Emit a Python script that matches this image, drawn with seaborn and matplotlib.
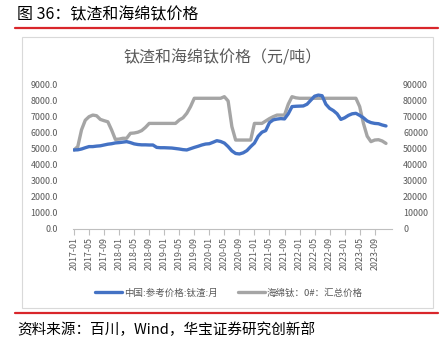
import matplotlib
matplotlib.use("Agg")
import matplotlib.pyplot as plt
import seaborn as sns
import pandas as pd
import numpy as np
from matplotlib.lines import Line2D
from matplotlib.patches import Rectangle

sns.set_style("white")
plt.rcParams['font.family'] = ['Noto Sans CJK SC', 'DejaVu Sans']

months = pd.date_range("2017-01-01", periods=84, freq="MS").strftime("%Y-%m").tolist()

slag = [4940, 4950, 5000, 5080, 5150, 5150, 5180, 5200, 5250, 5300, 5330, 5380,
        5400, 5430, 5460, 5400, 5320, 5280, 5260, 5260, 5250, 5250, 5100, 5080,
        5080, 5070, 5060, 5030, 5000, 4960, 4940, 5020, 5100, 5170, 5250, 5310,
        5330, 5420, 5520, 5470, 5370, 5150, 4880, 4720, 4690, 4760, 4900, 5150,
        5370, 5800, 6050, 6150, 6650, 6820, 6870, 6900, 6880, 7200, 7650, 7670,
        7680, 7690, 7800, 8050, 8300, 8370, 8330, 7800, 7540, 7400, 7200, 6850,
        6950, 7100, 7200, 7230, 7100, 6950, 6750, 6650, 6600, 6580, 6500, 6440]

sponge = [49400, 51500, 62000, 68000, 70200, 71200, 70800, 68500, 67700, 67000, 61900, 56000,
          56200, 56700, 56700, 59800, 60000, 60500, 61500, 63500, 66000, 66000, 66000, 66000,
          66000, 66000, 66000, 66000, 68100, 69500, 72300, 76500, 81700, 81700, 81700, 81700,
          81700, 81700, 81700, 81700, 82700, 80000, 64000, 55600, 55600, 55600, 55600, 55600,
          66000, 66000, 66000, 67500, 69000, 70200, 71200, 71200, 71200, 78000, 82700, 82000,
          81700, 81700, 81700, 81700, 81700, 81700, 81700, 81700, 81700, 81700, 81700, 81700,
          81700, 81700, 81700, 81700, 76500, 66000, 58000, 54600, 55600, 55800, 55000, 53500]

left_ticks = [0, 1000, 2000, 3000, 4000, 5000, 6000, 7000, 8000, 9000]
right_ticks = [0, 10000, 20000, 30000, 40000, 50000, 60000, 70000, 80000, 90000]

label_slag = "中国:参考价格:钛渣:月"
label_sponge = "海绵钛：0#：汇总价格"
title = "钛渣和海绵钛价格（元/吨）"
header = "图 36：钛渣和海绵钛价格"
footer = "资料来源：百川，Wind，华宝证券研究创新部"

df = pd.DataFrame({"idx": np.arange(len(months)), "month": months,
                   "slag": slag, "sponge": sponge})

W, H = 448, 350
fig = plt.figure(figsize=(W / 100, H / 100), dpi=100)

ax = fig.add_axes([73 / W, 1 - 229 / H, (392 - 73) / W, (229 - 85) / H])
ax2 = ax.twinx()

blue = "#4472C4"
grey = "#A5A5A5"
sns.lineplot(data=df, x="idx", y="slag", ax=ax, color=blue, linewidth=2.4, legend=False)
sns.lineplot(data=df, x="idx", y="sponge", ax=ax2, color=grey, linewidth=2.4, legend=False)
ax.set_zorder(ax2.get_zorder() + 1)
ax.patch.set_visible(False)

ax.set_xlim(-0.27, 84.6)
ax.set_ylim(0, 9000)
ax2.set_ylim(0, 90000)

ax.set_yticks(left_ticks)
ax.set_yticklabels([f"{v}.0" for v in left_ticks])
ax2.set_yticks(right_ticks)
ax2.set_yticklabels([str(v) for v in right_ticks])

tick_idx = list(range(0, len(months), 4))
ax.set_xticks(tick_idx)
ax.set_xticklabels([months[i] for i in tick_idx], rotation=90)

for a in (ax, ax2):
    for s in a.spines.values():
        s.set_visible(False)
    a.set_xlabel("")
    a.set_ylabel("")
    a.grid(False)
ax.spines["bottom"].set_visible(True)
ax.spines["bottom"].set_color("#BFBFBF")
ax.spines["bottom"].set_linewidth(0.8)

ax.tick_params(axis="x", length=4, width=0.8, color="#BFBFBF", labelsize=6.4,
               labelcolor="#595959", pad=2, direction="out", bottom=True)
ax.tick_params(axis="y", length=0, labelsize=6.4, labelcolor="#595959", pad=11)
ax2.tick_params(axis="y", length=0, labelsize=6.4, labelcolor="#595959", pad=8)

# chart title
fig.text(223 / W, 1 - 58 / H, title, ha="center", va="center", fontsize=11.5, color="#595959")

# legend
handles = [Line2D([0], [0], color=blue, lw=2.4), Line2D([0], [0], color=grey, lw=2.4)]
fig.legend(handles, [label_slag, label_sponge], loc="center", bbox_to_anchor=(229 / W, 1 - 293 / H),
           ncol=2, frameon=False, fontsize=6.8, handlelength=2.8, columnspacing=2.2,
           handletextpad=0.2, labelcolor="#595959")

# border box
fig.patches.append(Rectangle((22 / W, 1 - 308 / H), (433 - 22) / W, (308 - 37) / H,
                             transform=fig.transFigure, fill=False, edgecolor="#D9D9D9", lw=0.8))

# header & footer
fig.text(17 / W, 1 - 15 / H, header, ha="left", va="center", fontsize=11.5, color="#000000")
fig.add_artist(Line2D([15 / W, 438 / W], [1 - 28 / H, 1 - 28 / H], transform=fig.transFigure,
                      color="#D9262B", lw=1.6))
fig.add_artist(Line2D([15 / W, 438 / W], [1 - 313 / H, 1 - 313 / H], transform=fig.transFigure,
                      color="#D9262B", lw=1.6))
fig.text(17 / W, 1 - 330 / H, footer, ha="left", va="center", fontsize=10.5, color="#000000")

fig.savefig("out.png", dpi=100)
